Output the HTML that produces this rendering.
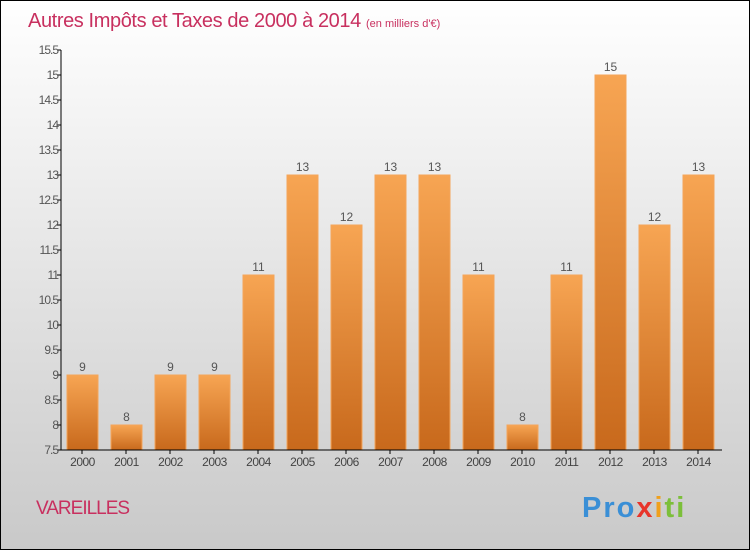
<!DOCTYPE html>
<html><head><meta charset="utf-8"><style>
body{margin:0;width:750px;height:550px;overflow:hidden;font-family:"Liberation Sans",sans-serif}
</style></head><body>
<svg width="750" height="550" xmlns="http://www.w3.org/2000/svg">
<defs>
<linearGradient id="bg" x1="0" y1="0" x2="0" y2="1"><stop offset="0" stop-color="#ffffff"/><stop offset="1" stop-color="#c9c9c9"/></linearGradient>
<linearGradient id="bar" x1="0" y1="0" x2="0" y2="1"><stop offset="0" stop-color="#f7a553"/><stop offset="1" stop-color="#c8691c"/></linearGradient>
</defs>
<rect x="0.5" y="0.5" width="749" height="549" fill="url(#bg)" stroke="#000"/>
<text x="28" y="27" font-size="20" fill="#c8305f" letter-spacing="-0.4">Autres Impôts et Taxes de 2000 à 2014 <tspan font-size="11" letter-spacing="0">(en milliers d'€)</tspan></text>
<g id="yaxis"></g>
<g id="bars"></g>
<line x1="61" y1="50" x2="61" y2="450" stroke="#000"/>
<line x1="61" y1="450" x2="722" y2="450" stroke="#000"/>
<text x="36" y="514" font-size="19" fill="#c8305f" letter-spacing="-1">VAREILLES</text>
<text x="582" y="517" font-size="29" font-weight="bold" letter-spacing="2"><tspan fill="#3a8fd6">Pro</tspan><tspan fill="#e8352b">x</tspan><tspan fill="#f0a01c">i</tspan><tspan fill="#7cbf3a">ti</tspan></text>
</svg>
<script>
const years=["2000","2001","2002","2003","2004","2005","2006","2007","2008","2009","2010","2011","2012","2013","2014"];
const values=[9,8,9,9,11,13,12,13,13,11,8,11,15,12,13];
const yTicks=[7.5,8,8.5,9,9.5,10,10.5,11,11.5,12,12.5,13,13.5,14,14.5,15,15.5];
const NS="http://www.w3.org/2000/svg";
const y=v=>450-(v-7.5)*50;
const x=i=>82+i*44;
const ya=document.getElementById('yaxis'),bg=document.getElementById('bars');
function mk(tag,at,p){const e=document.createElementNS(NS,tag);for(const k in at)e.setAttribute(k,at[k]);p.appendChild(e);return e;}
yTicks.forEach(t=>{
 const l=mk('line',{x1:57,x2:61,y1:y(t),y2:y(t),stroke:'#000'},ya);
 
 
 const tx=mk('text',{x:58,y:y(t)+4,'font-size':12,fill:'#555','text-anchor':'end','letter-spacing':'-1'},ya);
 tx.textContent=String(t);
 
 
});
years.forEach((yr,i)=>{
 const r=mk('rect',{x:x(i)-15,y:y(values[i]),width:31,height:450-y(values[i]),fill:'url(#bar)',stroke:'#f4a55a','stroke-width':1},bg);
 
 
 const v=mk('text',{x:x(i)+0.5,y:y(values[i])-4,'font-size':12,fill:'#555','text-anchor':'middle'},bg);
 v.textContent=values[i];
 
 
 const tl=mk('line',{x1:x(i),x2:x(i),y1:450,y2:454,stroke:'#000'},bg);
 
 
 const xl=mk('text',{x:x(i)+0.5,y:466,'font-size':12,fill:'#444','text-anchor':'middle','letter-spacing':'-0.5'},bg);
 xl.textContent=yr;
 
 
});
</script>
</body></html>
